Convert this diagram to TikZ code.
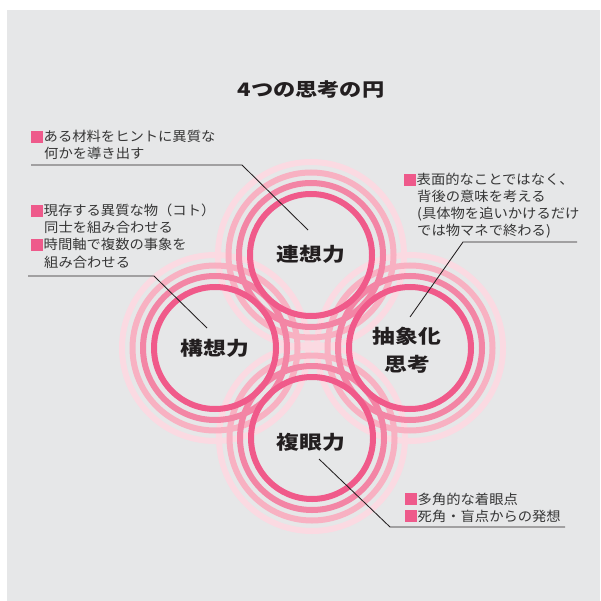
\documentclass[tikz,border=0pt]{standalone}
\usepackage{fontspec}
\setmainfont{Noto Sans CJK JP}
\newfontfamily\jpfont{Noto Sans CJK JP}[FakeStretch=1.06]
\newfontfamily\jpwide{Noto Sans CJK JP}[FakeStretch=1.2]
\definecolor{bg}{HTML}{E6E7E8}
\definecolor{rA}{HTML}{F05A8A}
\definecolor{rB}{HTML}{F385A5}
\definecolor{rC}{HTML}{F8B1C2}
\definecolor{rD}{HTML}{FBDAE2}
\definecolor{pk}{HTML}{EE5A8B}
\definecolor{ink}{HTML}{231F20}
\definecolor{txt}{HTML}{363636}
\newcommand\pksq{\textcolor{pk}{\rule[-0.6pt]{11.5pt}{11.5pt}}\hspace{1pt}}
\begin{document}
\begin{tikzpicture}[x=1pt,y=-1pt,
  ringA/.style={draw=rA,line width=6pt},
  ringB/.style={draw=rB,line width=6pt},
  ringC/.style={draw=rC,line width=6pt},
  ringD/.style={draw=rD,line width=6pt},
  anno/.style={anchor=base west,inner sep=0pt,text=txt,font=\jpfont\fontsize{13.5}{16}\selectfont},
  lbl/.style={anchor=base,inner sep=0pt,text=ink,font=\jpwide\bfseries\fontsize{19}{22}\selectfont},
  ttl/.style={anchor=base,inner sep=0pt,text=ink,font=\jpwide\bfseries\fontsize{18.5}{22}\selectfont},
  leader/.style={draw=ink,line width=0.85pt}]
\useasboundingbox (0,0) rectangle (600,601);
\fill[white] (0,0) rectangle (600,601);
\fill[bg] (7,10) rectangle (600,601);

% circle centres
\coordinate (ctop) at (311,255);
\coordinate (cleft) at (215,348);
\coordinate (cright) at (410,348);
\coordinate (cbot) at (312,438);

\foreach \c in {ctop,cleft,cright,cbot} \draw[ringD] (\c) circle[radius=93pt];
\foreach \c in {ctop,cleft,cright,cbot} \draw[ringC] (\c) circle[radius=82.5pt];
\foreach \c in {ctop,cleft,cright,cbot} \draw[ringB] (\c) circle[radius=72pt];
\foreach \c in {ctop,cleft,cright,cbot} \draw[ringA] (\c) circle[radius=61pt];

% title
\node[ttl] (title) at (311,97) {4つの思考の円};

% circle labels
\node[lbl] (renso) at (311,261) {連想力};
\node[lbl] (koso) at (215,355) {構想力};
\node[lbl] (chusho1) at (407,343) {抽象化};
\node[lbl] (chusho2) at (407,371) {思考};
\node[lbl] (fukugan) at (311,449) {複眼力};

% annotations
\node[anno] (a1l1) at (31,142) {\pksq ある材料をヒントに異質な};
\node[anno] (a1l2) at (44,159) {何かを導き出す};

\node[anno] (a2l1) at (31,216) {\pksq 現存する異質な物（コト）};
\node[anno] (a2l2) at (44,233) {同士を組み合わせる};
\node[anno] (a2l3) at (31,250) {\pksq 時間軸で複数の事象を};
\node[anno] (a2l4) at (44,267) {組み合わせる};

\node[anno] (a3l1) at (404,185) {\pksq 表面的なことではなく、};
\node[anno] (a3l2) at (417,202) {背後の意味を考える};
\node[anno] (a3l3) at (417,219) {(具体物を追いかけるだけ};
\node[anno] (a3l4) at (417,236) {では物マネで終わる)};

\node[anno] (a4l1) at (405,504) {\pksq 多角的な着眼点};
\node[anno] (a4l2) at (405,521) {\pksq 死角・盲点からの発想};

% leader lines
\coordinate (l1s) at (31,165);
\coordinate (l1k) at (242,165);
\coordinate (l1e) at (308,230);
\coordinate (l2s) at (28,276);
\coordinate (l2k) at (154,276);
\coordinate (l2e) at (207,328);
\coordinate (l3s) at (577,242);
\coordinate (l3k) at (463,242);
\coordinate (l3e) at (410,317);
\coordinate (l4s) at (319,459);
\coordinate (l4k) at (390,527);
\coordinate (l4e) at (565,527);
\draw[leader] (l1s) -- (l1k) -- (l1e);
\draw[leader] (l2s) -- (l2k) -- (l2e);
\draw[leader] (l3s) -- (l3k) -- (l3e);
\draw[leader] (l4s) -- (l4k) -- (l4e);
\end{tikzpicture}
\end{document}
